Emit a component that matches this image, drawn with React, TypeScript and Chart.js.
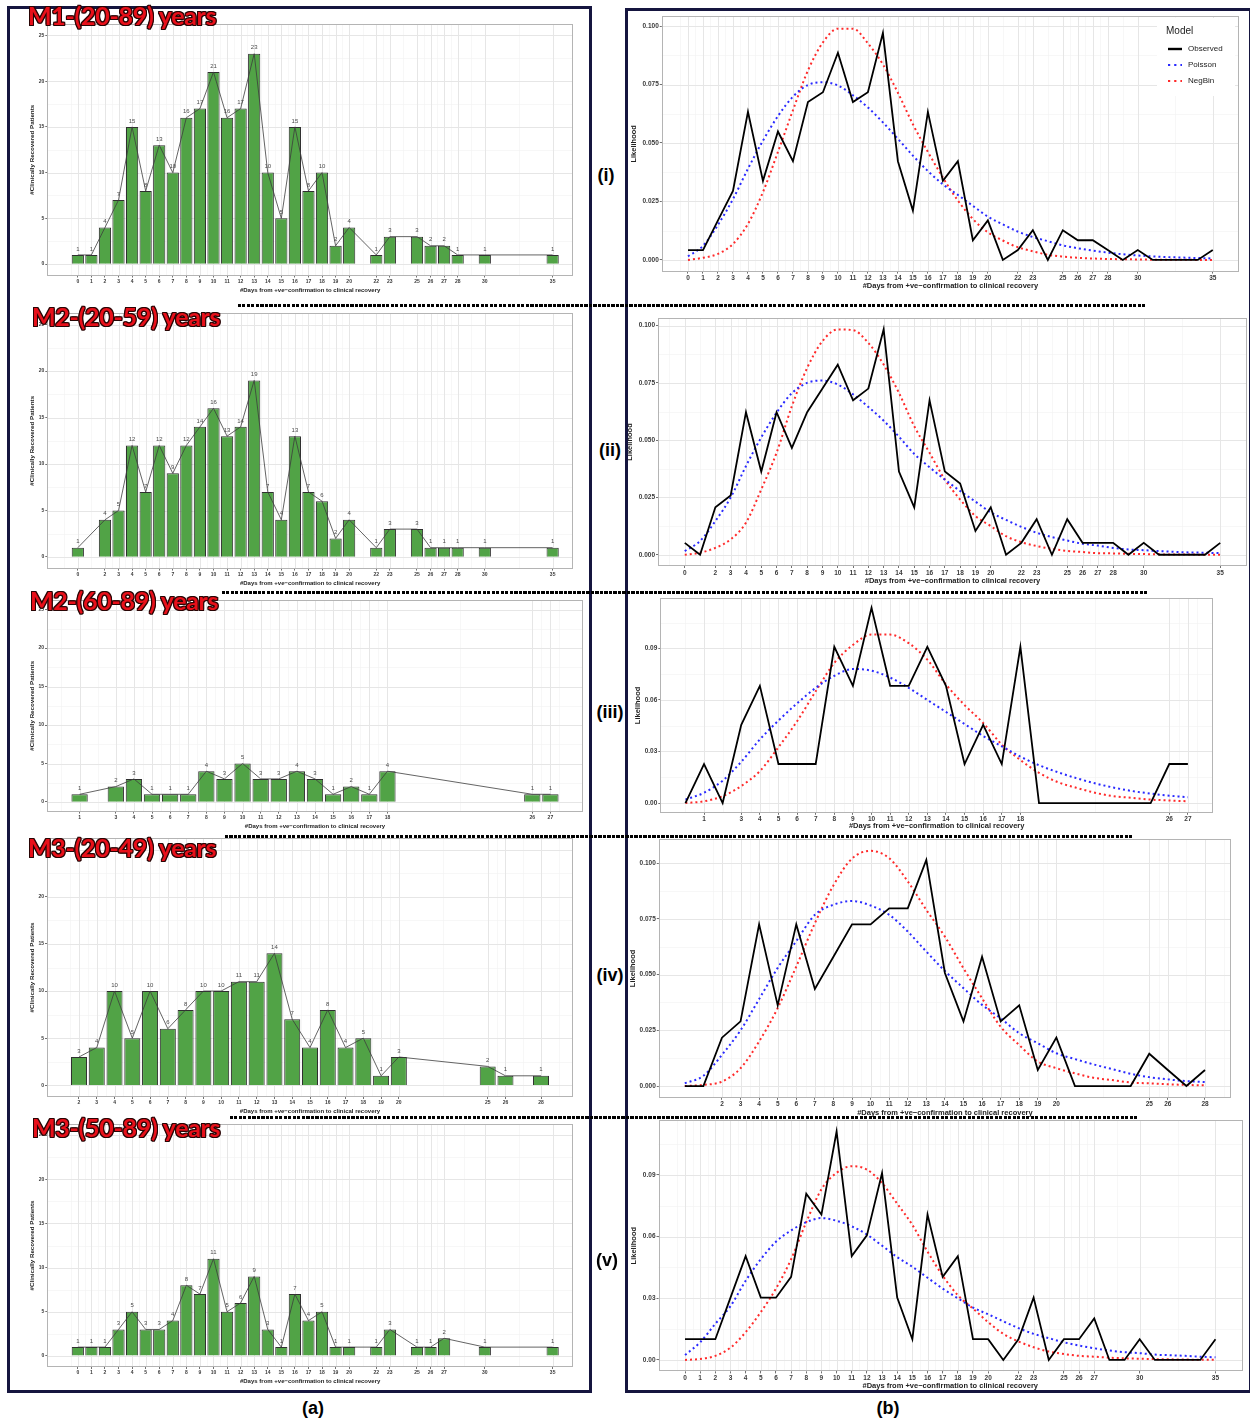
import React, { useEffect, useRef } from 'react';
import { Chart, registerables } from 'chart.js';

Chart.register(...registerables);

const FONT = '"Liberation Sans", Arial, Helvetica, sans-serif';
Chart.defaults.font.family = FONT;

// ---------------- (a) counts of clinically recovered patients ----------------
const m1Days = [0, 1, 2, 3, 4, 5, 6, 7, 8, 9, 10, 11, 12, 13, 14, 15, 16, 17, 18, 19, 20, 22, 23, 25, 26, 27, 28, 30, 35];
const m1Counts = [1, 1, 4, 7, 15, 8, 13, 10, 16, 17, 21, 16, 17, 23, 10, 5, 15, 8, 10, 2, 4, 1, 3, 3, 2, 2, 1, 1, 1];

const m2aDays = [0, 2, 3, 4, 5, 6, 7, 8, 9, 10, 11, 12, 13, 14, 15, 16, 17, 18, 19, 20, 22, 23, 25, 26, 27, 28, 30, 35];
const m2aCounts = [1, 4, 5, 12, 7, 12, 9, 12, 14, 16, 13, 14, 19, 7, 4, 13, 7, 6, 2, 4, 1, 3, 3, 1, 1, 1, 1, 1];

const m2bDays = [1, 3, 4, 5, 6, 7, 8, 9, 10, 11, 12, 13, 14, 15, 16, 17, 18, 26, 27];
const m2bCounts = [1, 2, 3, 1, 1, 1, 4, 3, 5, 3, 3, 4, 3, 1, 2, 1, 4, 1, 1];

const m3aDays = [2, 3, 4, 5, 6, 7, 8, 9, 10, 11, 12, 13, 14, 15, 16, 17, 18, 19, 20, 25, 26, 28];
const m3aCounts = [3, 4, 10, 5, 10, 6, 8, 10, 10, 11, 11, 14, 7, 4, 8, 4, 5, 1, 3, 2, 1, 1];

const m3bDays = [0, 1, 2, 3, 4, 5, 6, 7, 8, 9, 10, 11, 12, 13, 14, 15, 16, 17, 18, 19, 20, 22, 23, 25, 26, 27, 30, 35];
const m3bCounts = [1, 1, 1, 3, 5, 3, 3, 4, 8, 7, 11, 5, 6, 9, 3, 1, 7, 4, 5, 1, 1, 1, 3, 1, 1, 2, 1, 1];

const countTicks = [0, 5, 10, 15, 20, 25];

// ---------------- (b) likelihoods ----------------
const days35 = [0, 1, 2, 3, 4, 5, 6, 7, 8, 9, 10, 11, 12, 13, 14, 15, 16, 17, 18, 19, 20, 21, 22, 23, 24, 25, 26, 27, 28, 29, 30, 31, 32, 33, 34, 35];
const days27 = [0, 1, 2, 3, 4, 5, 6, 7, 8, 9, 10, 11, 12, 13, 14, 15, 16, 17, 18, 19, 20, 21, 22, 23, 24, 25, 26, 27];
const days28 = [0, 1, 2, 3, 4, 5, 6, 7, 8, 9, 10, 11, 12, 13, 14, 15, 16, 17, 18, 19, 20, 21, 22, 23, 24, 25, 26, 27, 28];

const obs1 = [0.0042, 0.0042, 0.0169, 0.0295, 0.0633, 0.0338, 0.0549, 0.0422, 0.0675, 0.0717, 0.0886, 0.0675, 0.0717, 0.0970, 0.0422, 0.0211, 0.0633, 0.0338, 0.0422, 0.0084, 0.0169, 0, 0.0042, 0.0127, 0, 0.0127, 0.0084, 0.0084, 0.0042, 0, 0.0042, 0, 0, 0, 0, 0.0042];
const poi1 = [0.0015, 0.0060, 0.0150, 0.0260, 0.0390, 0.0510, 0.0615, 0.0698, 0.0748, 0.0760, 0.0746, 0.0704, 0.0652, 0.0588, 0.0518, 0.0446, 0.0380, 0.0323, 0.0278, 0.0231, 0.0185, 0.0152, 0.0121, 0.0098, 0.0080, 0.0062, 0.0050, 0.0040, 0.0031, 0.0024, 0.0019, 0.0015, 0.0012, 0.0010, 0.0008, 0.0006];
const nb1 = [0.0000, 0.0009, 0.0026, 0.0068, 0.0154, 0.0290, 0.0462, 0.0640, 0.0810, 0.0930, 0.0989, 0.0989, 0.0926, 0.0836, 0.0715, 0.0580, 0.0462, 0.0352, 0.0254, 0.0175, 0.0118, 0.0083, 0.0054, 0.0037, 0.0022, 0.0014, 0.0009, 0.0006, 0.0004, 0.0003, 0.0002, 0.0001, 0.0001, 0.0001, 0.0000, 0.0000];

const obs2 = [0.0052, 0, 0.0207, 0.0259, 0.0622, 0.0363, 0.0622, 0.0466, 0.0622, 0.0725, 0.0829, 0.0674, 0.0725, 0.0984, 0.0363, 0.0207, 0.0674, 0.0363, 0.0311, 0.0104, 0.0207, 0, 0.0052, 0.0155, 0, 0.0155, 0.0052, 0.0052, 0.0052, 0, 0.0052, 0, 0, 0, 0, 0.0052];
const poi2 = [0.0016, 0.0060, 0.0147, 0.0250, 0.0387, 0.0512, 0.0620, 0.0705, 0.0750, 0.0760, 0.0743, 0.0700, 0.0645, 0.0585, 0.0515, 0.0440, 0.0382, 0.0328, 0.0278, 0.0232, 0.0185, 0.0152, 0.0122, 0.0096, 0.0077, 0.0062, 0.0048, 0.0040, 0.0030, 0.0023, 0.0020, 0.0016, 0.0013, 0.0010, 0.0009, 0.0007];
const nb2 = [0.0000, 0.0009, 0.0030, 0.0067, 0.0140, 0.0285, 0.0445, 0.0648, 0.0815, 0.0932, 0.0983, 0.0980, 0.0924, 0.0830, 0.0706, 0.0561, 0.0445, 0.0328, 0.0241, 0.0169, 0.0125, 0.0081, 0.0055, 0.0038, 0.0026, 0.0017, 0.0012, 0.0007, 0.0006, 0.0004, 0.0003, 0.0002, 0.0001, 0.0001, 0.0000, 0.0000];

const obs3 = [0, 0.0227, 0, 0.0455, 0.0682, 0.0227, 0.0227, 0.0227, 0.0909, 0.0682, 0.1136, 0.0682, 0.0682, 0.0909, 0.0682, 0.0227, 0.0455, 0.0227, 0.0909, 0, 0, 0, 0, 0, 0, 0, 0.0227, 0.0227];
const poi3 = [0.0020, 0.0060, 0.0130, 0.0240, 0.0370, 0.0480, 0.0580, 0.0670, 0.0740, 0.0780, 0.0770, 0.0730, 0.0670, 0.0600, 0.0530, 0.0460, 0.0390, 0.0330, 0.0270, 0.0220, 0.0180, 0.0145, 0.0115, 0.0090, 0.0070, 0.0055, 0.0043, 0.0034];
const nb3 = [0.0000, 0.0010, 0.0040, 0.0099, 0.0186, 0.0325, 0.0476, 0.0650, 0.0815, 0.0920, 0.0980, 0.0980, 0.0930, 0.0834, 0.0690, 0.0570, 0.0466, 0.0340, 0.0250, 0.0176, 0.0122, 0.0089, 0.0060, 0.0040, 0.0030, 0.0020, 0.0015, 0.0010];

const obs4 = [0, 0, 0.0217, 0.0290, 0.0725, 0.0362, 0.0725, 0.0435, 0.0580, 0.0725, 0.0725, 0.0797, 0.0797, 0.1014, 0.0507, 0.0290, 0.0580, 0.0290, 0.0362, 0.0072, 0.0217, 0, 0, 0, 0, 0.0145, 0.0072, 0, 0.0072];
const poi4 = [0.0012, 0.0046, 0.0140, 0.0250, 0.0390, 0.0530, 0.0650, 0.0768, 0.0813, 0.0830, 0.0810, 0.0768, 0.0693, 0.0603, 0.0516, 0.0439, 0.0364, 0.0304, 0.0237, 0.0192, 0.0147, 0.0121, 0.0097, 0.0076, 0.0055, 0.0040, 0.0030, 0.0022, 0.0018];
const nb4 = [0.0000, 0.0005, 0.0020, 0.0080, 0.0200, 0.0350, 0.0536, 0.0730, 0.0900, 0.1020, 0.1055, 0.1022, 0.0918, 0.0790, 0.0670, 0.0528, 0.0394, 0.0266, 0.0184, 0.0110, 0.0080, 0.0057, 0.0037, 0.0027, 0.0016, 0.0012, 0.0008, 0.0005, 0.0003];

const obs5 = [0.0101, 0.0101, 0.0101, 0.0303, 0.0505, 0.0303, 0.0303, 0.0404, 0.0808, 0.0707, 0.1111, 0.0505, 0.0606, 0.0909, 0.0303, 0.0101, 0.0707, 0.0404, 0.0505, 0.0101, 0.0101, 0, 0.0101, 0.0303, 0, 0.0101, 0.0101, 0.0202, 0, 0, 0.0101, 0, 0, 0, 0, 0.0101];
const poi5 = [0.0024, 0.0086, 0.0176, 0.0262, 0.0385, 0.0490, 0.0575, 0.0630, 0.0670, 0.0690, 0.0677, 0.0650, 0.0610, 0.0556, 0.0500, 0.0453, 0.0400, 0.0347, 0.0300, 0.0255, 0.0222, 0.0188, 0.0155, 0.0127, 0.0106, 0.0086, 0.0070, 0.0057, 0.0046, 0.0038, 0.0033, 0.0026, 0.0023, 0.0020, 0.0016, 0.0013];
const nb5 = [0.0000, 0.0005, 0.0020, 0.0060, 0.0135, 0.0233, 0.0347, 0.0490, 0.0670, 0.0830, 0.0910, 0.0942, 0.0926, 0.0860, 0.0760, 0.0657, 0.0527, 0.0410, 0.0315, 0.0250, 0.0184, 0.0127, 0.0090, 0.0062, 0.0041, 0.0029, 0.0020, 0.0016, 0.0011, 0.0008, 0.0006, 0.0004, 0.0003, 0.0002, 0.0001, 0.0001];

const likeTicks25 = [0, 0.025, 0.05, 0.075, 0.1];
const likeTicks03 = [0, 0.03, 0.06, 0.09];

const xTitle = '#Days from +ve\u2212confirmation to clinical recovery';

type Box = { l: number; t: number; r: number; b: number };

function minorOf(major: number[], lo: number, hi: number) {
  const out: number[] = [];
  for (let i = 0; i < major.length - 1; i++) out.push((major[i] + major[i + 1]) / 2);
  if (major.length > 1) {
    const n = major.length;
    out.push(major[0] - (major[1] - major[0]) / 2);
    out.push(major[n - 1] + (major[n - 1] - major[n - 2]) / 2);
  }
  return out.filter((v) => v > lo && v < hi);
}

function makeGrid(xMajor: number[], yMajor: number[]) {
  return {
    id: 'ggGrid',
    beforeDatasetsDraw(chart: any) {
      const { ctx, chartArea: a, scales } = chart;
      const x = scales.x;
      const y = scales.y;
      const xMinor = minorOf(xMajor, x.min, x.max);
      const yMinor = minorOf(yMajor, y.min, y.max);
      ctx.save();
      const vlines = (vals: number[], color: string, w: number) => {
        ctx.strokeStyle = color;
        ctx.lineWidth = w;
        ctx.beginPath();
        vals.forEach((val) => {
          const p = Math.round(x.getPixelForValue(val)) + 0.5;
          ctx.moveTo(p, a.top);
          ctx.lineTo(p, a.bottom);
        });
        ctx.stroke();
      };
      const hlines = (vals: number[], color: string, w: number) => {
        ctx.strokeStyle = color;
        ctx.lineWidth = w;
        ctx.beginPath();
        vals.forEach((val) => {
          const p = Math.round(y.getPixelForValue(val)) + 0.5;
          ctx.moveTo(a.left, p);
          ctx.lineTo(a.right, p);
        });
        ctx.stroke();
      };
      vlines(xMinor, '#f3f3f3', 0.7);
      hlines(yMinor, '#f3f3f3', 0.7);
      vlines(xMajor, '#e6e6e6', 1);
      hlines(yMajor, '#e6e6e6', 1);
      ctx.restore();
    },
    afterDatasetsDraw(chart: any) {
      const { ctx, chartArea: a } = chart;
      ctx.save();
      ctx.strokeStyle = '#b4b4b4';
      ctx.lineWidth = 1;
      ctx.strokeRect(Math.round(a.left) + 0.5, Math.round(a.top) + 0.5, Math.round(a.width) - 1, Math.round(a.height) - 1);
      ctx.restore();
    },
  };
}

function axisCommon(ticks: number[], fmt: (v: number) => string, size: number, fit: (s: any) => void, titleText: string, titleSize: number, min: number, max: number) {
  return {
    type: 'linear' as const,
    min,
    max,
    offset: false,
    afterBuildTicks: (s: any) => {
      s.ticks = ticks.map((v) => ({ value: v }));
    },
    afterFit: fit,
    ticks: {
      autoSkip: false,
      maxRotation: 0,
      minRotation: 0,
      padding: 1,
      color: '#3a3a3a',
      font: { size, weight: 'bold' as const },
      callback: (v: any) => fmt(Number(v)),
    },
    grid: { drawOnChartArea: false, drawTicks: true, tickLength: 2, tickColor: '#333', lineWidth: 0.7, offset: false },
    border: { display: false },
    title: { display: true, text: titleText, padding: 0, color: '#222', font: { size: titleSize, weight: 'bold' as const } },
  };
}

function BarPanel(props: { days: number[]; counts: number[]; xMin: number; xMax: number; box: Box }) {
  const { days, counts, xMin, xMax, box } = props;
  const ref = useRef<HTMLCanvasElement>(null);
  const PT = 8, PR = 8;
  const L = Math.round(box.l - 18.5);
  const T = Math.round(box.t - PT);
  const W = Math.round(box.r + PR) - L;
  const H = Math.round(box.b + 18) - T;
  const wy = box.l - L;
  const hx = T + H - box.b;
  useEffect(() => {
    const pts = days.map((d, i) => ({ x: d, y: counts[i] }));
    const labels = {
      id: 'barLabels',
      afterDatasetsDraw(chart: any) {
        const meta = chart.getDatasetMeta(1);
        const ctx = chart.ctx;
        ctx.save();
        ctx.font = `6px ${FONT}`;
        ctx.fillStyle = '#4a4a4a';
        ctx.textAlign = 'center';
        ctx.textBaseline = 'bottom';
        meta.data.forEach((el: any, i: number) => ctx.fillText(String(counts[i]), el.x, el.y - 3));
        ctx.restore();
      },
    };
    const chart = new Chart(ref.current as HTMLCanvasElement, {
      type: 'bar',
      data: {
        datasets: [
          { type: 'line', data: pts, borderColor: '#3c3c3c', borderWidth: 0.8, pointRadius: 0, order: 0 } as any,
          { type: 'bar', data: pts, backgroundColor: '#51a346', borderColor: '#2f2f2f', borderWidth: 1, barPercentage: 0.9, categoryPercentage: 1, order: 1 } as any,
        ],
      },
      options: {
        animation: false,
        responsive: false,
        events: [],
        layout: { padding: { top: PT, right: PR, left: 0, bottom: 0 } },
        plugins: { legend: { display: false }, tooltip: { enabled: false } },
        scales: {
          x: axisCommon(days, (v) => String(v), 5, (s: any) => { s.height = hx; }, xTitle, 6, xMin, xMax),
          y: axisCommon(countTicks, (v) => String(v), 5, (s: any) => { s.width = wy; }, '#Clinically Recovered Patients', 6.2, -1.25, 26.25),
        },
      } as any,
      plugins: [makeGrid(days, countTicks), labels],
    });
    return () => chart.destroy();
  }, []);
  return (
    <div style={{ position: 'absolute', left: L, top: T, width: W, height: H }}>
      <canvas ref={ref} width={W} height={H} style={{ display: 'block', width: W, height: H }} />
    </div>
  );
}

function LinePanel(props: {
  days: number[]; obs: number[]; poi: number[]; nb: number[]; xTicks: number[];
  yTicks: number[]; dec: number; xMin: number; xMax: number; yMin: number; yMax: number;
  box: Box; titleX: number; titleY: number; legend?: boolean;
}) {
  const { days, obs, poi, nb, xTicks, yTicks, dec, xMin, xMax, yMin, yMax, box, titleX, titleY, legend } = props;
  const ref = useRef<HTMLCanvasElement>(null);
  const PT = 8, PR = 8;
  const L = Math.round(titleX - 4.8);
  const T = Math.round(box.t - PT);
  const W = Math.round(box.r + PR) - L;
  const H = Math.round(titleY + 4.8) - T;
  const wy = box.l - L;
  const hx = T + H - box.b;
  useEffect(() => {
    const toPts = (arr: number[]) => days.map((d, i) => ({ x: d, y: arr[i] }));
    const plugins: any[] = [makeGrid(xTicks, yTicks)];
    if (legend) {
      plugins.push({
        id: 'ggLegend',
        afterDraw(chart: any) {
          const { ctx, chartArea: a } = chart;
          const x0 = a.right - 82;
          const y0 = a.top + 2;
          ctx.save();
          ctx.fillStyle = '#ffffff';
          ctx.fillRect(x0, y0, 78, 78);
          ctx.fillStyle = '#222';
          ctx.textAlign = 'left';
          ctx.textBaseline = 'middle';
          ctx.font = `10px ${FONT}`;
          ctx.fillText('Model', x0 + 9, y0 + 13);
          const items = [
            { label: 'Observed', color: '#000000', dash: false },
            { label: 'Poisson', color: '#2a2aff', dash: true },
            { label: 'NegBin', color: '#ff2a2a', dash: true },
          ];
          items.forEach((it, i) => {
            const yy = y0 + 31 + i * 16;
            ctx.strokeStyle = it.color;
            ctx.lineWidth = it.dash ? 2.2 : 2.4;
            ctx.setLineDash(it.dash ? [2.2, 4] : []);
            ctx.beginPath();
            ctx.moveTo(x0 + 11, yy);
            ctx.lineTo(x0 + 25, yy);
            ctx.stroke();
            ctx.setLineDash([]);
            ctx.fillStyle = '#222';
            ctx.font = `8px ${FONT}`;
            ctx.fillText(it.label, x0 + 31, yy);
          });
          ctx.restore();
        },
      });
    }
    const chart = new Chart(ref.current as HTMLCanvasElement, {
      type: 'line',
      data: {
        datasets: [
          { label: 'Observed', data: toPts(obs), borderColor: '#000000', borderWidth: 1.8, pointRadius: 0, tension: 0, order: 0 },
          { label: 'Poisson', data: toPts(poi), borderColor: '#2a2aff', borderWidth: 2, borderDash: [2, 3], pointRadius: 0, cubicInterpolationMode: 'monotone', order: 1 },
          { label: 'NegBin', data: toPts(nb), borderColor: '#ff2a2a', borderWidth: 2, borderDash: [2, 3], pointRadius: 0, cubicInterpolationMode: 'monotone', order: 2 },
        ] as any,
      },
      options: {
        animation: false,
        responsive: false,
        events: [],
        layout: { padding: { top: PT, right: PR, left: 0, bottom: 0 } },
        plugins: { legend: { display: false }, tooltip: { enabled: false } },
        scales: {
          x: axisCommon(xTicks, (v) => String(v), 6.5, (s: any) => { s.height = hx; }, xTitle, 7.5, xMin, xMax),
          y: axisCommon(yTicks, (v) => v.toFixed(dec), 6.5, (s: any) => { s.width = wy; }, 'Likelihood', 7.5, yMin, yMax),
        },
      } as any,
      plugins,
    });
    return () => chart.destroy();
  }, []);
  return (
    <div style={{ position: 'absolute', left: L, top: T, width: W, height: H }}>
      <canvas ref={ref} width={W} height={H} style={{ display: 'block', width: W, height: H }} />
    </div>
  );
}

const outline = '#2a0505';
const headerStyle: React.CSSProperties = {
  position: 'absolute',
  fontFamily: 'Lato, "Open Sans", sans-serif',
  fontWeight: 700,
  fontSize: 25,
  lineHeight: '25px',
  color: '#e8101a',
  whiteSpace: 'nowrap',
  letterSpacing: -0.3,
  textShadow: `-1px -1px 0 ${outline}, 1px -1px 0 ${outline}, -1px 1px 0 ${outline}, 1px 1px 0 ${outline}, 0 1px 0 ${outline}, 1px 0 0 ${outline}, -1px 0 0 ${outline}, 0 -1px 0 ${outline}`,
  zIndex: 5,
};

const romanStyle: React.CSSProperties = {
  position: 'absolute',
  fontFamily: FONT,
  fontWeight: 700,
  fontSize: 18,
  lineHeight: '20px',
  color: '#000',
  transform: 'translate(-50%, -50%)',
  whiteSpace: 'nowrap',
  zIndex: 6,
};

function Sep(p: { x: number; y: number; w: number }) {
  return (
    <div
      style={{
        position: 'absolute',
        left: p.x,
        top: p.y,
        width: p.w,
        height: 3,
        background: 'repeating-linear-gradient(90deg, #000 0 3px, transparent 3px 4.5px)',
        zIndex: 4,
      }}
    />
  );
}

export default function App() {
  return (
    <div style={{ position: 'absolute', left: 0, top: 0, width: 1250, height: 1422, background: '#fff', overflow: 'hidden' }}>
      <BarPanel days={m1Days} counts={m1Counts} xMin={-2.25} xMax={36.5} box={{ l: 47.3, t: 23.5, r: 573, b: 275.5 }} />
      <BarPanel days={m2aDays} counts={m2aCounts} xMin={-2.25} xMax={36.5} box={{ l: 47.3, t: 313, r: 573, b: 568.6 }} />
      <BarPanel days={m2bDays} counts={m2bCounts} xMin={-0.8} xMax={28.8} box={{ l: 47, t: 600, r: 583, b: 811.6 }} />
      <BarPanel days={m3aDays} counts={m3aCounts} xMin={0.2} xMax={29.8} box={{ l: 47, t: 838, r: 573, b: 1097 }} />
      <BarPanel days={m3bDays} counts={m3bCounts} xMin={-2.25} xMax={36.5} box={{ l: 47.3, t: 1124, r: 573, b: 1367 }} />

      <LinePanel days={days35} obs={obs1} poi={poi1} nb={nb1} xTicks={m1Days} yTicks={likeTicks25} dec={3}
        xMin={-1.75} xMax={36.75} yMin={-0.005} yMax={0.1043} box={{ l: 661.75, t: 16, r: 1239, b: 271.6 }} titleX={634} titleY={285} legend />
      <LinePanel days={days35} obs={obs2} poi={poi2} nb={nb2} xTicks={m2aDays} yTicks={likeTicks25} dec={3}
        xMin={-1.75} xMax={36.75} yMin={-0.0049} yMax={0.1033} box={{ l: 658, t: 318.4, r: 1247, b: 566 }} titleX={630} titleY={580} />
      <LinePanel days={days27} obs={obs3} poi={poi3} nb={nb3} xTicks={m2bDays} yTicks={likeTicks03} dec={2}
        xMin={-1.35} xMax={28.35} yMin={-0.00568} yMax={0.1193} box={{ l: 660.3, t: 597.5, r: 1213, b: 812.8 }} titleX={638} titleY={825} />
      <LinePanel days={days28} obs={obs4} poi={poi4} nb={nb4} xTicks={m3aDays} yTicks={likeTicks25} dec={3}
        xMin={-1.4} xMax={29.4} yMin={-0.00527} yMax={0.1108} box={{ l: 658.8, t: 839, r: 1231, b: 1097.8 }} titleX={633} titleY={1112} />
      <LinePanel days={days35} obs={obs5} poi={poi5} nb={nb5} xTicks={m3bDays} yTicks={likeTicks03} dec={2}
        xMin={-1.75} xMax={36.75} yMin={-0.00556} yMax={0.1167} box={{ l: 658.5, t: 1120, r: 1241.5, b: 1371.4 }} titleX={634} titleY={1385} />

      {/* frames */}
      <div style={{ position: 'absolute', left: 7, top: 6, width: 579, height: 1381, border: '3px solid #15153f', zIndex: 3 }} />
      <div style={{ position: 'absolute', left: 625, top: 8, width: 621, height: 1379, border: '3px solid #15153f', zIndex: 3 }} />

      {/* separators */}
      <Sep x={238} y={304} w={907} />
      <Sep x={222} y={591} w={926} />
      <Sep x={225} y={835} w={908} />
      <Sep x={230} y={1116} w={907} />

      {/* headers */}
      <div style={{ ...headerStyle, left: 28, top: 3 }}>M1-(20-89) years</div>
      <div style={{ ...headerStyle, left: 32, top: 304 }}>M2-(20-59) years</div>
      <div style={{ ...headerStyle, left: 30, top: 588 }}>M2-(60-89) years</div>
      <div style={{ ...headerStyle, left: 28, top: 835 }}>M3-(20-49) years</div>
      <div style={{ ...headerStyle, left: 32, top: 1115 }}>M3-(50-89) years</div>

      {/* panel labels */}
      <div style={{ ...romanStyle, left: 606, top: 175 }}>(i)</div>
      <div style={{ ...romanStyle, left: 610, top: 450 }}>(ii)</div>
      <div style={{ ...romanStyle, left: 610, top: 712 }}>(iii)</div>
      <div style={{ ...romanStyle, left: 610, top: 975 }}>(iv)</div>
      <div style={{ ...romanStyle, left: 607, top: 1260 }}>(v)</div>
      <div style={{ ...romanStyle, left: 313, top: 1408 }}>(a)</div>
      <div style={{ ...romanStyle, left: 888, top: 1408 }}>(b)</div>
    </div>
  );
}
